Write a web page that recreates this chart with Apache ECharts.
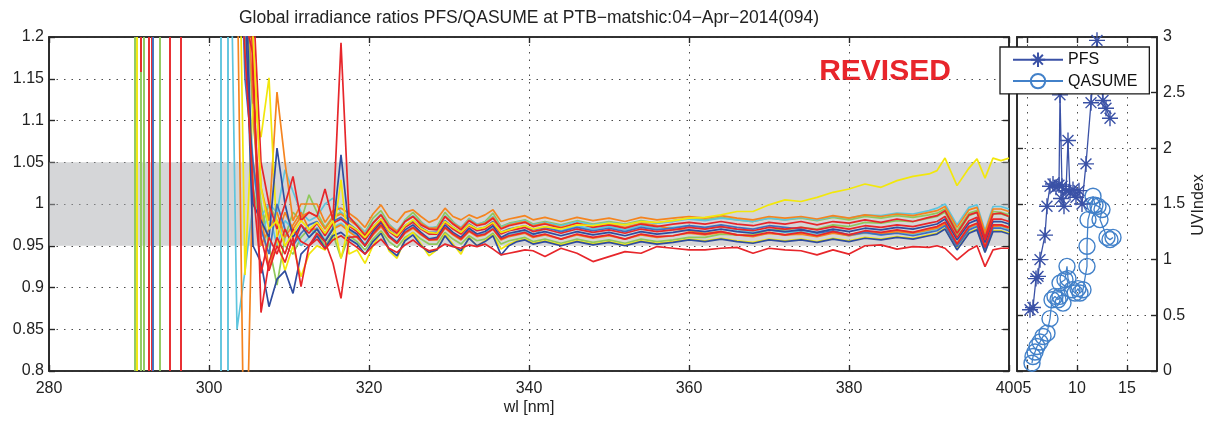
<!DOCTYPE html>
<html><head><meta charset="utf-8">
<script src="https://cdn.jsdelivr.net/npm/echarts@6/dist/echarts.min.js"></script>
<style>html,body{margin:0;padding:0;background:#fff}#c{width:1224px;height:423px}</style>
</head><body><div id="c"></div>
<script>
// ---------- data ----------
const wl = [302.5,303.5,304.5,305.5,306.5,307.5,308.5,309.5,310.5,311.5,312.5,313.5,314.5,315.5,316.5,317.5,318.5,319.5,320.5,321.5,322.5,323.5,324.5,325.5,326.5,327.5,328.5,329.5,330.5,331.5,332.5,333.5,334.5,335.5,336.5,337.5,338.5,339.5,340.5,
342,344,346,348,350,352,354,356,358,360,362,364,366,368,370,372,374,376,378,380,382,384,386,388,390,
391,392,393.5,395,396,397,398,399,400];

const redLow = [null,1.55,1.22,1.18,0.87,0.93,0.96,0.94,0.97,0.955,0.95,
.958,.946,.957,.962,.955,.948,.940,.950,.958,.947,.942,.951,.957,.949,.944,.946,.952,.949,.947,.951,.949,.952,.946,.939,.941,.943,.945,.944,
.937,.947,.941,.931,.937,.943,.941,.949,.947,.945,.945,.947,.948,.941,.947,.945,.944,.939,.945,.940,.950,.951,.946,.949,.948,
.950,.947,.933,.945,.950,.925,.945,.947,.947];
const yellowRise = [null,1.45,1.3,1.2,1.02,0.97,0.98,0.95,0.965,0.98,0.97,
.978,.965,.980,.935,.975,.969,.960,.972,.982,.968,.962,.974,.981,.971,.966,.965,.979,.972,.966,.975,.970,.972,.978,.966,.969,.972,.974,.970,
.973,.970,.975,.974,.977,.975,.979,.978,.980,.983,.984,.987,.991,.991,.999,1.005,1.003,1.008,1.014,1.018,1.024,1.020,1.028,1.033,1.036,
1.040,1.055,1.022,1.043,1.054,1.031,1.055,1.052,1.055];
const redSpikeUp = [null,1.7,1.4,1.25,1.05,1.0,0.97,1.0,1.033,0.98,0.99,
.985,1.018,.980,1.193,.985,.974,.962,.977,.987,.972,.965,.979,.985,.975,.970,.969,.985,.976,.969,.980,.974,.976,.983,.970,.974,.976,.978,.973,
.976,.971,.977,.972,.975,.971,.976,.973,.976,.978,.976,.979,.976,.974,.978,.976,.979,.975,.979,.977,.981,.978,.982,.979,.984,
.986,.992,.965,.987,.990,.960,.988,.989,.985];
const redSpikeDown = [null,1.8,1.5,1.15,0.96,0.92,0.95,0.93,0.96,0.901,0.95,
.965,.955,.929,.887,.960,.961,.950,.964,.975,.961,.953,.966,.972,.964,.957,.958,.972,.964,.958,.968,.962,.964,.970,.958,.962,.964,.966,.961,
.964,.958,.964,.960,.963,.958,.964,.961,.962,.966,.964,.967,.963,.962,.966,.963,.966,.962,.967,.963,.968,.966,.969,.966,.971,
.973,.978,.952,.973,.977,.948,.975,.975,.972];
const orangeTop = [null,1.6,1.35,1.2,1.02,0.98,1.134,1.05,0.98,1.0,1.0,
1.0,.978,.992,.995,.989,.982,.972,.988,.999,.984,.978,.990,.993,.985,.978,.982,.995,.985,.981,.987,.983,.987,.993,.979,.982,.984,.986,.981,
.984,.979,.984,.980,.983,.979,.984,.981,.983,.985,.983,.986,.983,.981,.985,.983,.985,.982,.986,.983,.987,.985,.988,.986,.990,
.992,.997,.972,.993,.996,.966,.994,.994,.991];
const orangeMid = [null,1.3,0.6,1.05,0.99,0.921,0.96,0.99,0.97,0.985,0.99,
.985,.970,.984,.988,.981,.974,.964,.977,.987,.974,.967,.979,.985,.977,.971,.971,.985,.977,.971,.981,.975,.977,.984,.971,.975,.977,.979,.974,
.977,.972,.977,.973,.976,.972,.977,.974,.970,.968,.965,.967,.963,.962,.965,.963,.964,.961,.965,.962,.966,.964,.967,.965,.969,
.971,.976,.950,.972,.976,.946,.973,.974,.971];
const greenTop = [null,1.5,1.28,1.1,1.0,0.95,0.903,0.96,0.99,0.98,1.011,
.990,.972,.985,.990,.983,.976,.966,.983,.992,.976,.966,.981,.990,.979,.970,.973,.990,.979,.970,.983,.975,.979,.989,.973,.977,.979,.981,.976,
.979,.975,.980,.976,.979,.976,.980,.977,.980,.983,.981,.984,.981,.979,.983,.981,.983,.980,.984,.981,.985,.983,.986,.984,.987,
.989,.994,.968,.989,.992,.963,.991,.990,.987];
const greenLow = [null,1.4,1.2,1.02,0.97,1.0,0.98,0.95,0.94,0.96,0.97,
.965,.950,.964,.935,.962,.955,.945,.958,.968,.955,.948,.960,.966,.958,.952,.952,.966,.958,.952,.962,.956,.958,.965,.952,.956,.958,.960,.955,
.958,.953,.958,.954,.957,.953,.958,.955,.957,.960,.960,.964,.963,.963,.969,.969,.972,.970,.975,.973,.978,.977,.980,.979,.983,
.985,.990,.963,.986,.990,.958,.988,.988,.985];
const cyanTop = [1.45,0.85,0.92,1.0,0.985,1.0,0.99,1.041,1.015,0.99,0.98,
.985,1.0,1.007,.990,.982,.975,.966,.978,.988,.975,.968,.980,.986,.978,.972,.972,.986,.978,.972,.982,.976,.978,.985,.972,.976,.978,.980,.975,
.978,.974,.979,.975,.978,.975,.979,.977,.979,.982,.980,.983,.981,.979,.983,.981,.984,.981,.985,.983,.987,.986,.989,.988,.992,
.995,1.0,.975,.996,.999,.968,.997,.997,.994];
const cyanMid = [null,1.35,1.22,1.05,0.96,0.99,0.95,0.98,0.97,0.95,0.96,
.972,.957,.972,.977,.969,.962,.952,.965,.975,.962,.955,.967,.973,.965,.959,.959,.973,.965,.959,.969,.963,.965,.972,.959,.963,.965,.967,.962,
.972,.968,.974,.970,.973,.969,.974,.971,.972,.974,.971,.973,.969,.966,.969,.966,.967,.963,.966,.962,.965,.963,.966,.964,.968,
.970,.976,.951,.971,.975,.948,.973,.973,.970];
const blueSpike = [null,1.6,1.3,1.0,0.98,0.96,1.067,1.0,0.96,0.975,0.96,
.970,.955,.970,1.059,.970,.964,.950,.967,.978,.962,.954,.969,.975,.966,.958,.960,.975,.966,.960,.971,.964,.967,.974,.960,.965,.967,.969,.964,
.967,.962,.967,.963,.966,.962,.967,.964,.966,.969,.967,.970,.967,.965,.969,.967,.969,.966,.970,.967,.971,.969,.972,.970,.974,
.976,.982,.957,.977,.981,.954,.979,.979,.976];
const blueLow = [null,1.5,1.25,0.95,0.93,0.877,0.91,0.92,0.893,0.94,0.95,
.962,.947,.962,.966,.958,.952,.940,.955,.965,.946,.938,.956,.963,.950,.942,.945,.962,.950,.944,.959,.950,.955,.962,.939,.950,.955,.957,.952,
.955,.950,.955,.951,.954,.950,.955,.952,.954,.957,.955,.958,.955,.953,.957,.955,.957,.954,.958,.955,.959,.957,.960,.958,.962,
.964,.970,.945,.965,.969,.942,.967,.967,.964];
const blueMid = [null,1.45,1.15,1.05,0.97,0.94,1.0,0.97,0.95,0.965,0.975,
.979,.964,.979,.984,.976,.969,.959,.972,.982,.969,.962,.974,.980,.972,.966,.966,.980,.972,.966,.976,.970,.972,.979,.966,.970,.972,.974,.969,
.972,.967,.972,.968,.971,.967,.972,.969,.971,.974,.972,.975,.972,.970,.974,.972,.970,.965,.968,.963,.966,.963,.965,.962,.966,
.968,.974,.949,.969,.973,.946,.971,.971,.968];
const yellowLow = [null,1.5,0.915,1.12,1.08,1.151,0.96,0.92,0.95,0.913,0.94,
.950,.945,.960,1.029,.940,.945,.929,.950,.966,.944,.935,.958,.966,.952,.938,.945,.964,.952,.940,.960,.950,.956,.963,.946,.952,.956,.958,.953,
.956,.951,.956,.952,.955,.951,.956,.953,.955,.958,.956,.959,.956,.954,.958,.956,.958,.955,.959,.956,.960,.958,.961,.959,.963,
.965,.971,.946,.966,.970,.943,.968,.968,.965];
const orangeLow = [null,1.55,1.32,1.12,0.95,0.97,0.99,0.96,0.975,0.99,0.97,
.970,.955,.970,.975,.967,.960,.950,.963,.973,.960,.953,.965,.971,.963,.957,.957,.971,.963,.957,.967,.961,.963,.970,.957,.961,.963,.965,.960,
.963,.958,.963,.959,.962,.958,.963,.960,.962,.965,.963,.966,.963,.961,.965,.963,.965,.962,.966,.963,.967,.965,.968,.966,.970,
.972,.978,.953,.973,.977,.950,.975,.975,.972];
const redMid = [null,1.4,1.18,1.02,0.917,0.96,0.94,0.97,0.95,0.975,0.965,
.977,.962,.977,.982,.974,.967,.957,.970,.980,.967,.960,.972,.978,.970,.964,.964,.978,.970,.964,.974,.968,.970,.977,.964,.968,.970,.972,.967,
.970,.965,.970,.966,.969,.965,.970,.967,.969,.972,.970,.973,.970,.968,.972,.970,.972,.969,.973,.970,.974,.972,.975,.973,.977,
.979,.985,.960,.980,.984,.957,.982,.982,.979];

// off-scale ratios at short wavelengths (vertical strokes)
const spikeWl    = [290.75, 290.95, 291.5, 291.9, 292.5, 292.8, 293.0, 293.9, 295.1, 296.5, 301.5, 302.3];
const spikeColor = ['green','yellow','green','green','red','red','blue','green','red','red','cyan','cyan'];

// right panel: UV index
const pfsX = [5.3,5.6,5.9,6.1,6.3,6.8,7.0,7.3,7.6,7.9,8.2,8.3,8.5,8.7,8.4,8.9,9.1,9.3,9.6,9.9,10.2,10.5,10.9,11.4,12.0,12.6,12.9,13.3];
const pfsY = [0.55,0.57,0.83,0.85,1.0,1.22,1.48,1.66,1.68,1.65,1.67,2.48,1.66,1.48,1.55,1.62,2.07,1.60,1.63,1.56,1.62,1.50,1.86,2.41,2.97,2.43,2.36,2.27];
const qX = [5.5,5.6,5.8,6.0,6.3,6.6,7.0,7.3,7.5,7.8,8.1,8.3,8.6,8.3,8.8,9.0,9.1,9.5,9.8,10.1,10.3,10.6,11.0,11.0,11.1,11.5,11.6,11.8,12.1,12.5,12.3,13.0,13.3,13.6];
const qY = [0.07,0.13,0.17,0.22,0.26,0.31,0.34,0.47,0.64,0.67,0.64,0.67,0.61,0.79,0.82,0.94,0.83,0.73,0.70,0.74,0.70,0.73,0.94,1.12,1.36,1.49,1.57,1.49,1.48,1.45,1.36,1.20,1.18,1.20];
const rightXTicks = [5, 10, 15];

// ---------- chart ----------
const C = {red:'#e7262b', orange:'#f5841f', yellow:'#f2e70c', green:'#8fc85c', cyan:'#5ec5de', blue:'#3f6fbf', dblue:'#2f4c9f'};
const FF = '"Liberation Sans", Arial, Helvetica, sans-serif';
const pfsCol = '#3a51a6', qCol = '#4281c9';

const mainLines = [
  [greenLow,'green'],[greenTop,'green'],[cyanMid,'cyan'],[cyanTop,'cyan'],
  [orangeLow,'orange'],[orangeMid,'orange'],[orangeTop,'orange'],[yellowLow,'yellow'],
  [blueMid,'blue'],[blueLow,'dblue'],[blueSpike,'dblue'],
  [redMid,'red'],[redSpikeDown,'red'],[redSpikeUp,'red'],[redLow,'red'],[yellowRise,'yellow']
];

const axLine = {show:true, onZero:false, lineStyle:{color:'#262626', width:1.6}};
const tickIn = {show:true, inside:true, length:6, lineStyle:{color:'#262626', width:1.4}};
const dots = {show:true, lineStyle:{color:'#4a4a4a', width:1, type:[1.5,6]}};
const lab = {color:'#222', fontSize:16, fontFamily:FF};

const series = [];
series.push({type:'line', data:[], xAxisIndex:0, yAxisIndex:0, silent:true,
  markArea:{silent:true, itemStyle:{color:'#abadb1', opacity:0.5}, data:[[{yAxis:0.95},{yAxis:1.05}]]}});
mainLines.forEach(([vals,c],k)=>{
  series.push({type:'line', name:'r'+k, xAxisIndex:0, yAxisIndex:0, silent:true,
    data: wl.map((w,i)=>[w, vals[i]]), showSymbol:false, symbol:'none', connectNulls:false,
    lineStyle:{color:C[c], width:1.7}, itemStyle:{color:C[c]}, z:2});
});
const spikeData = spikeWl.map((w,i)=>({xAxis:w, lineStyle:{color:C[spikeColor[i]], width:1.9, type:'solid'}}));
spikeData.push([{coord:[291.42,1.158], lineStyle:{color:C.red, width:1.9, type:'solid'}},{coord:[291.42,1.2]}]);
series.push({type:'line', data:[], xAxisIndex:0, yAxisIndex:0, silent:true,
  markLine:{silent:true, symbol:['none','none'], label:{show:false}, animation:false, data:spikeData}});

const star = 'path://M5,0L5,10M0,5L10,5M1.6,1.6L8.4,8.4M8.4,1.6L1.6,8.4';
series.push({type:'line', name:'QASUME', xAxisIndex:2, yAxisIndex:2, data:qX.map((x,i)=>[x,qY[i]]),
  symbol:'circle', symbolSize:16, showSymbol:true, lineStyle:{color:qCol, width:1.3},
  itemStyle:{color:'none', borderColor:qCol, borderWidth:1.4}, z:3});
series.push({type:'line', name:'PFS', xAxisIndex:2, yAxisIndex:2, data:pfsX.map((x,i)=>[x,pfsY[i]]),
  symbol:star, symbolSize:16, showSymbol:true, lineStyle:{color:pfsCol, width:1.3},
  itemStyle:{color:'none', borderColor:pfsCol, borderWidth:1.4}, z:4});

const chart = echarts.init(document.getElementById('c'), null, {renderer:'canvas'});
chart.setOption({
  animation:false,
  backgroundColor:'#fff',
  textStyle:{fontFamily:FF},
  grid:[
    {left:49, top:37, width:960, height:334, show:true, borderColor:'#262626', borderWidth:1.6, backgroundColor:'transparent'},
    {left:1017, top:37, width:140, height:334, show:true, borderColor:'#262626', borderWidth:1.6, backgroundColor:'transparent'}
  ],
  xAxis:[
    {type:'value', gridIndex:0, min:280, max:400, interval:20, position:'bottom', axisLine:axLine, axisTick:tickIn,
      axisLabel:Object.assign({margin:10}, lab), splitLine:dots},
    {type:'value', gridIndex:0, min:280, max:400, interval:20, position:'top', axisLine:axLine, axisTick:tickIn,
      axisLabel:{show:false}, splitLine:{show:false}},
    {type:'value', gridIndex:1, min:4, max:18, position:'bottom', axisLine:axLine,
      axisTick:Object.assign({customValues:rightXTicks}, tickIn),
      axisLabel:Object.assign({margin:10, customValues:rightXTicks}, lab), splitLine:dots},
    {type:'value', gridIndex:1, min:4, max:18, position:'top', axisLine:axLine,
      axisTick:Object.assign({customValues:rightXTicks}, tickIn), axisLabel:{show:false}, splitLine:{show:false}}
  ],
  yAxis:[
    {type:'value', gridIndex:0, min:0.8, max:1.2, interval:0.05, position:'left', axisLine:axLine, axisTick:tickIn,
      axisLabel:Object.assign({margin:5}, lab), splitLine:dots},
    {type:'value', gridIndex:0, min:0.8, max:1.2, interval:0.05, position:'right', axisLine:axLine, axisTick:tickIn,
      axisLabel:{show:false}, splitLine:{show:false}},
    {type:'value', gridIndex:1, min:0, max:3, interval:0.5, position:'right', axisLine:axLine, axisTick:tickIn,
      axisLabel:Object.assign({margin:6}, lab), splitLine:dots},
    {type:'value', gridIndex:1, min:0, max:3, interval:0.5, position:'left', axisLine:axLine, axisTick:tickIn,
      axisLabel:{show:false}, splitLine:{show:false}}
  ],
  legend:{data:['PFS','QASUME'], orient:'vertical', left:1000, top:47, itemWidth:50, itemHeight:18, itemGap:2,
    padding:[3,12,3,12], backgroundColor:'#fff', borderColor:'#1a1a1a', borderWidth:1.3, borderRadius:0,
    selectedMode:false, textStyle:{fontSize:16, fontFamily:FF, color:'#111'}, z:10},
  graphic:[
    {type:'text', x:529, y:18, style:{text:'Global irradiance ratios PFS/QASUME at PTB\u2212matshic:04\u2212Apr\u22122014(094)',
      fontSize:17.5, fontFamily:FF, fill:'#222', align:'center', verticalAlign:'middle'}},
    {type:'text', x:885, y:72, style:{text:'REVISED', fontSize:30, fontWeight:'bold', fontFamily:FF, fill:'#e8252b', align:'center', verticalAlign:'middle'}},
    {type:'text', x:529, y:408, style:{text:'wl [nm]', fontSize:16, fontFamily:FF, fill:'#222', align:'center', verticalAlign:'middle'}},
    {type:'text', x:1199, y:205, rotation:Math.PI/2, style:{text:'UVIndex', fontSize:16, fontFamily:FF, fill:'#222', align:'center', verticalAlign:'middle'}}
  ],
  series:series
});
</script></body></html>
